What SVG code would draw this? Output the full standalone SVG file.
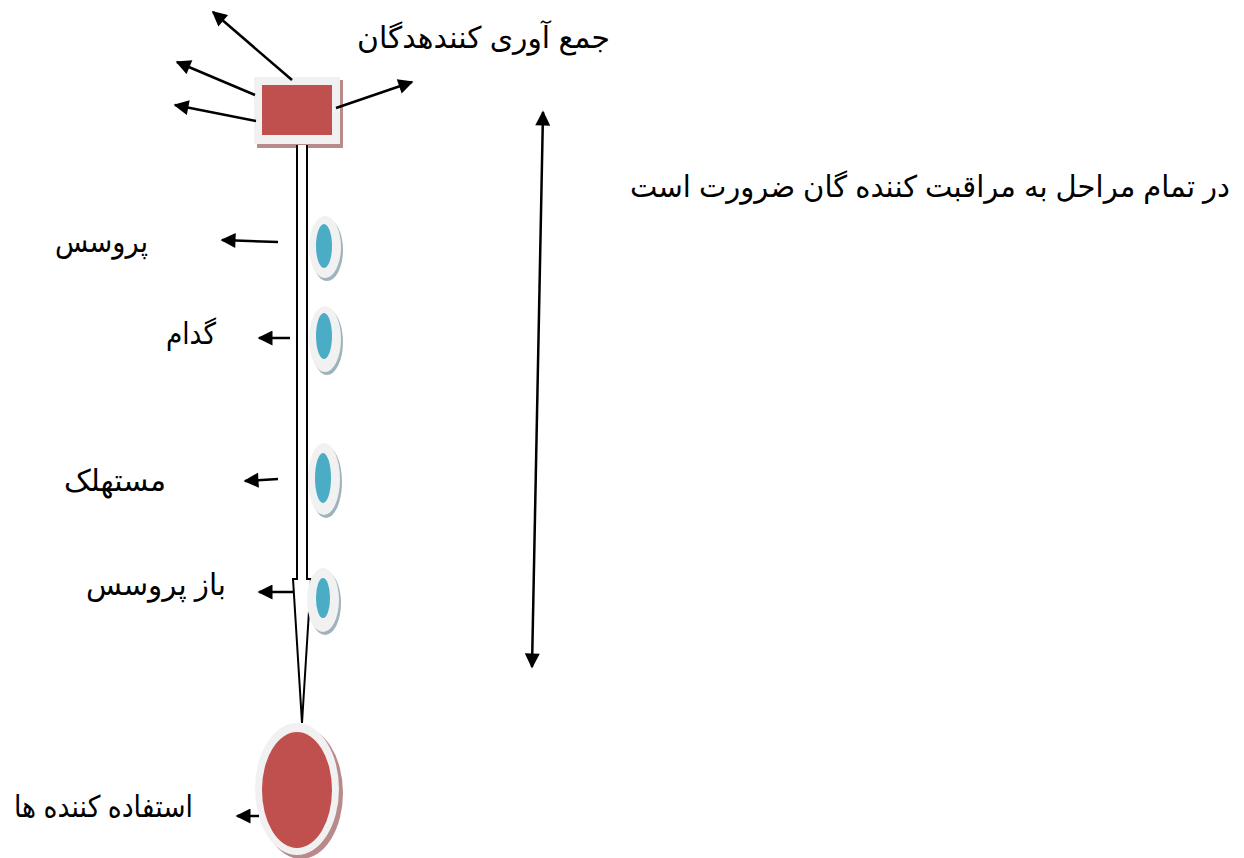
<svg xmlns="http://www.w3.org/2000/svg" width="1244" height="858" viewBox="0 0 1244 858">
<style>
text{font-family:"Liberation Sans",Arial,"DejaVu Sans",sans-serif;font-size:30px;fill:#000}
.ln{stroke:#000;stroke-width:2.5;fill:none}
.ring{fill:#f1f1f1}
.blue{fill:#4bacc6}
.red{fill:#c0504d}
.bsh{fill:#9fb3bd}
.rsh{fill:#b88a8b}
</style>
<defs>
<marker id="ah" viewBox="0 0 10 10" refX="9" refY="5" markerWidth="6.5" markerHeight="6" orient="auto-start-reverse" markerUnits="strokeWidth">
<path d="M0,0 L10,5 L0,10 z" fill="#000"/>
</marker>
</defs>
<rect width="1244" height="858" fill="#fff"/>

<g id="collector">
<rect class="rsh" x="257" y="80" width="86" height="68"/>
<rect class="ring" x="254" y="77" width="86" height="67"/>
<rect class="red" x="262" y="85" width="70" height="50"/>
<text x="610" y="48" text-anchor="end" textLength="253" lengthAdjust="spacingAndGlyphs">جمع آوری کنندهدگان</text>
</g>

<g id="flow">
<path d="M297,145 V579 H293 L302,723 L311,579 H307 V145" fill="#fff" stroke="#000" stroke-width="2"/>
</g>

<g id="n1">
<ellipse class="bsh" cx="327" cy="250" rx="16" ry="31"/>
<ellipse class="ring" cx="325" cy="247" rx="16" ry="31"/>
<ellipse class="blue" cx="324" cy="246" rx="8" ry="22"/>
<text x="148" y="252" text-anchor="end" textLength="93" lengthAdjust="spacingAndGlyphs">پروسس</text>
</g>
<g id="n2">
<ellipse class="bsh" cx="327" cy="342" rx="16" ry="33"/>
<ellipse class="ring" cx="325" cy="339" rx="16" ry="33"/>
<ellipse class="blue" cx="324" cy="336" rx="8" ry="23"/>
<text x="216" y="344" text-anchor="end" textLength="50" lengthAdjust="spacingAndGlyphs">گدام</text>
</g>
<g id="n3">
<ellipse class="bsh" cx="326" cy="482" rx="16" ry="36"/>
<ellipse class="ring" cx="324" cy="479" rx="16" ry="36"/>
<ellipse class="blue" cx="323" cy="478" rx="8" ry="25"/>
<text x="166" y="491" text-anchor="end" textLength="102" lengthAdjust="spacingAndGlyphs">مستهلک</text>
</g>
<g id="n4">
<ellipse class="bsh" cx="325" cy="603" rx="16" ry="32"/>
<ellipse class="ring" cx="323" cy="600" rx="16" ry="32"/>
<ellipse class="blue" cx="323" cy="598" rx="7" ry="20"/>
<text x="226" y="595" text-anchor="end" textLength="140" lengthAdjust="spacingAndGlyphs">باز پروسس</text>
</g>
<g id="users">
<ellipse class="rsh" cx="301" cy="793" rx="42" ry="66"/>
<ellipse class="ring" cx="297" cy="789" rx="42" ry="66"/>
<ellipse class="red" cx="297" cy="790" rx="35" ry="58"/>
<text x="193" y="817" text-anchor="end" textLength="179" lengthAdjust="spacingAndGlyphs">استفاده کننده ها</text>
</g>
<g id="note">
<text x="1230" y="197" text-anchor="end" font-size="26" textLength="600" lengthAdjust="spacingAndGlyphs">در تمام مراحل به مراقبت کننده گان ضرورت است</text>
</g>

<g id="connectors">
<line class="ln" x1="292" y1="80" x2="213" y2="12" marker-end="url(#ah)"/>
<line class="ln" x1="255" y1="95" x2="177" y2="62" marker-end="url(#ah)"/>
<line class="ln" x1="256" y1="121" x2="175" y2="105" marker-end="url(#ah)"/>
<line class="ln" x1="336" y1="108" x2="412" y2="82" marker-end="url(#ah)"/>
<line class="ln" x1="278" y1="242" x2="222" y2="240" marker-end="url(#ah)"/>
<line class="ln" x1="290" y1="338" x2="259" y2="338" marker-end="url(#ah)"/>
<line class="ln" x1="278" y1="479" x2="245" y2="481" marker-end="url(#ah)"/>
<line class="ln" x1="293" y1="592" x2="259" y2="592" marker-end="url(#ah)"/>
<line class="ln" x1="259" y1="816" x2="237" y2="816" marker-end="url(#ah)"/>
<line class="ln" x1="543" y1="112" x2="532" y2="667" marker-start="url(#ah)" marker-end="url(#ah)"/>
</g>
</svg>
